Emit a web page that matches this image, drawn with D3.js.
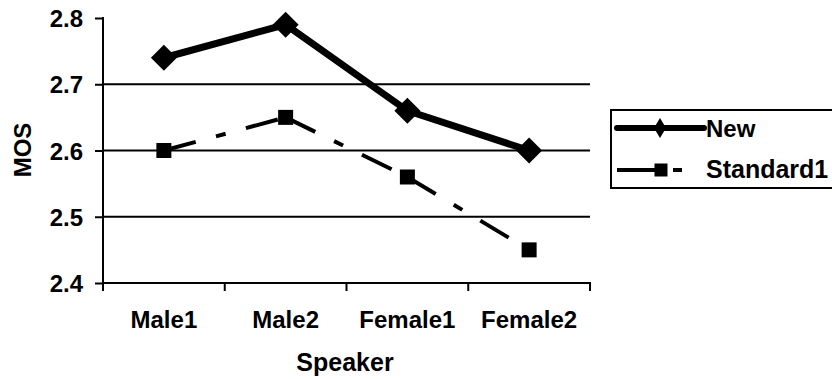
<!DOCTYPE html>
<html>
<head>
<meta charset="utf-8">
<script src="https://cdn.jsdelivr.net/npm/d3@7"></script>
<style>
  html, body { margin: 0; padding: 0; background: #fff; }
  svg { display: block; }
  text { font-family: "Liberation Sans", Arial, sans-serif; font-weight: bold; fill: #000; }
</style>
</head>
<body>
<svg id="chart" width="832" height="379"></svg>
<script>
// Speakers along the x axis
const speakers = ["Male1", "Male2", "Female1", "Female2"];
// Mean opinion scores per speaker
const newScores = [2.74, 2.79, 2.66, 2.60];
const standard1Scores = [2.60, 2.65, 2.56, 2.45];
// Y axis ticks
const yTicks = [2.4, 2.5, 2.6, 2.7, 2.8];
const seriesNames = ["New", "Standard1"];

const svg = d3.select("#chart");
const plotLeft = 103, plotRight = 590, plotTop = 18, plotBottom = 283;

const x = d3.scalePoint().domain(speakers).range([plotLeft, plotRight]).padding(0.5);
const xEdges = d3.scaleLinear().domain([0, speakers.length]).range([plotLeft, plotRight]);
const y = d3.scaleLinear().domain([2.4, 2.8]).range([plotBottom, plotTop]);

function label(g, tx, ty, str, size, anchor, rotate) {
  return g.append("text")
    .attr("transform", `translate(${tx},${ty})` + (rotate ? ` rotate(${rotate})` : ""))
    .attr("text-anchor", anchor)
    .attr("font-size", size)
    .text(str);
}

// horizontal gridlines (none at the top value)
svg.append("g").selectAll("line")
  .data(yTicks.filter(t => t < 2.8))
  .join("line")
  .attr("x1", plotLeft).attr("x2", plotRight)
  .attr("y1", d => y(d)).attr("y2", d => y(d))
  .attr("stroke", "#000").attr("stroke-width", 2);

// y axis line and ticks
const yAxis = svg.append("g").attr("transform", `translate(${plotLeft},0)`)
  .call(d3.axisLeft(y).tickValues(yTicks).tickSize(8).tickFormat(""));
yAxis.select(".domain").attr("stroke", "#000").attr("stroke-width", 2).attr("d", `M0,${plotTop - 1}V${plotBottom}`);
yAxis.selectAll(".tick line").attr("stroke", "#000").attr("stroke-width", 2);
yTicks.forEach(t => label(svg, 83, y(t) + 9, d3.format(".1f")(t), 24, "end"));

// x axis line and category boundary ticks
svg.append("line").attr("x1", plotLeft - 1).attr("x2", plotRight + 1)
  .attr("y1", plotBottom).attr("y2", plotBottom).attr("stroke", "#000").attr("stroke-width", 2);
svg.append("g").selectAll("line")
  .data(d3.range(speakers.length + 1))
  .join("line")
  .attr("x1", d => xEdges(d)).attr("x2", d => xEdges(d))
  .attr("y1", plotBottom).attr("y2", plotBottom + 8)
  .attr("stroke", "#000").attr("stroke-width", 2);
speakers.forEach(s => label(svg, x(s), 328, s, 24, "middle"));

// axis titles
label(svg, 345, 371, "Speaker", 25, "middle");
label(svg, 31, 150, "MOS", 24, "middle", -90);

const line = d3.line().x((d, i) => x(speakers[i])).y(d => y(d));

// Standard1: dash-dot segments, each restarting the pattern at a point
const stdPts = standard1Scores.map((v, i) => ({ s: speakers[i], v }));
const segLine = d3.line().x(d => x(d.s)).y(d => y(d.v));
svg.append("g").selectAll("path")
  .data(d3.pairs(stdPts))
  .join("path")
  .attr("d", d => segLine(d))
  .attr("fill", "none").attr("stroke", "#000").attr("stroke-width", 4)
  .attr("stroke-dasharray", "33,21,10,21");
svg.append("g").selectAll("path")
  .data(stdPts)
  .join("path")
  .attr("transform", d => `translate(${x(d.s)},${y(d.v)})`)
  .attr("d", d3.symbol(d3.symbolSquare, 225)())
  .attr("fill", "#000");

// New: thick solid line with diamonds
svg.append("path")
  .datum(newScores)
  .attr("d", line)
  .attr("fill", "none").attr("stroke", "#000").attr("stroke-width", 7)
  .attr("stroke-linejoin", "round");
svg.append("g").selectAll("path")
  .data(newScores)
  .join("path")
  .attr("transform", (d, i) => `translate(${x(speakers[i])},${y(d)}) rotate(45)`)
  .attr("d", d3.symbol(d3.symbolSquare, 338)())
  .attr("fill", "#000");

// legend
const lg = svg.append("g");
lg.append("rect").attr("x", 611).attr("y", 110).attr("width", 240).attr("height", 78)
  .attr("fill", "none").attr("stroke", "#000").attr("stroke-width", 2);
// New entry
lg.append("line").attr("x1", 617).attr("x2", 704).attr("y1", 128).attr("y2", 128)
  .attr("stroke", "#000").attr("stroke-width", 6).attr("stroke-linecap", "round");
lg.append("path").attr("d", "M660,118L666,128L660,138L654,128Z").attr("fill", "#000");
label(lg, 706, 137, seriesNames[0], 24, "start");
// Standard1 entry
lg.append("line").attr("x1", 617).attr("x2", 682).attr("y1", 170).attr("y2", 170)
  .attr("stroke", "#000").attr("stroke-width", 4).attr("stroke-dasharray", "38,18,9,40");
lg.append("path").attr("transform", "translate(661,170)")
  .attr("d", d3.symbol(d3.symbolSquare, 169)()).attr("fill", "#000");
label(lg, 706, 178, seriesNames[1], 25, "start");
</script>
</body>
</html>
